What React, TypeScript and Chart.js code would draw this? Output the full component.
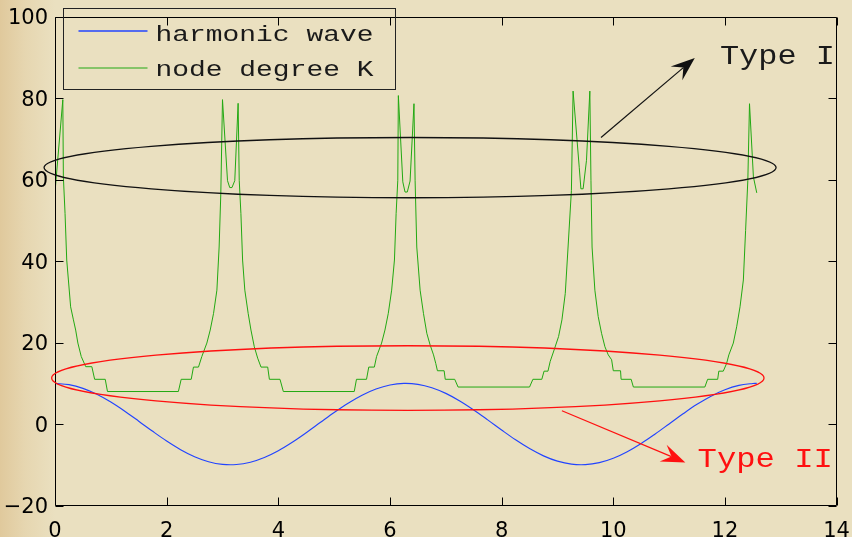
import React, { useEffect, useRef } from "react";
import { Chart, registerables } from "chart.js";

Chart.register(...registerables);

// ---- data ----
const seriesLabels = ["harmonic wave", "node degree K"];

const harmonicX = [
  0, 0.25, 0.5, 0.75, 1.0, 1.25, 1.5, 1.75, 2.0, 2.25, 2.5, 2.75, 3.0, 3.25, 3.5, 3.75,
  4.0, 4.25, 4.5, 4.75, 5.0, 5.25, 5.5, 5.75, 6.0, 6.25, 6.5, 6.75, 7.0, 7.25, 7.5, 7.75,
  8.0, 8.25, 8.5, 8.75, 9.0, 9.25, 9.5, 9.75, 10.0, 10.25, 10.5, 10.75, 11.0, 11.25, 11.5,
  11.75, 12.0, 12.25, 12.5, 12.57,
];
const harmonicY = [
  10, 9.69, 8.78, 7.32, 5.4, 3.15, 0.71, -1.78, -4.16, -6.28, -8.01, -9.24, -9.9, -9.94, -9.36, -8.2,
  -6.54, -4.46, -2.11, 0.37, 2.84, 5.12, 7.09, 8.61, 9.6, 10.0, 9.77, 8.93, 7.54, 5.68, 3.47, 1.04,
  -1.46, -3.87, -6.02, -7.81, -9.11, -9.85, -9.97, -9.47, -8.39, -6.78, -4.76, -2.43, 0.04, 2.52, 4.85,
  6.86, 8.44, 9.5, 9.98, 10.0,
];

const degreeX = [
  0.0, 0.14, 0.15, 0.18, 0.21, 0.24, 0.28, 0.33, 0.37, 0.41, 0.47, 0.55, 0.66, 0.71, 0.9, 0.94,
  2.21, 2.26, 2.44, 2.48, 2.57, 2.63, 2.72, 2.78, 2.84, 2.9, 2.94, 2.97, 3.0, 3.09, 3.13, 3.17, 3.22, 3.28,
  3.3, 3.33, 3.36, 3.4, 3.46, 3.51, 3.57, 3.63, 3.69, 3.81, 3.84, 4.03, 4.09,
  5.36, 5.4, 5.58, 5.62, 5.72, 5.76, 5.85, 5.91, 5.97, 6.03, 6.08, 6.11, 6.14, 6.15, 6.23, 6.27, 6.31, 6.36, 6.43,
  6.45, 6.48, 6.54, 6.6, 6.66, 6.72, 6.78, 6.82, 6.85, 6.97, 6.99, 7.16, 7.22,
  8.5, 8.56, 8.72, 8.76, 8.83, 8.87, 8.94, 9.02, 9.08, 9.14, 9.19, 9.25, 9.28, 9.39, 9.42, 9.46, 9.52, 9.58,
  9.6, 9.62, 9.67, 9.73, 9.79, 9.85, 9.91, 9.97, 10.0, 10.13, 10.14, 10.32, 10.36,
  11.64, 11.69, 11.87, 11.89, 11.97, 12.03, 12.07, 12.15, 12.21, 12.27, 12.33, 12.37, 12.41, 12.44, 12.51, 12.57,
];
const degreeY = [
  57.0, 79.7, 60.7, 51.7, 40.3, 35.4, 28.8, 25.6, 23.1, 19.9, 16.6, 14.1, 14.1, 11.0, 11.0, 8.0,
  8.0, 11.0, 11.0, 14.0, 14.0, 16.6, 19.9, 23.1, 27.2, 32.9, 43.5, 56.6, 79.7, 59.8, 58.1, 58.1, 59.8, 78.8,
  59.9, 51.7, 40.3, 32.9, 27.2, 23.1, 19.0, 16.2, 14.0, 14.0, 11.0, 11.0, 8.0,
  8.0, 11.0, 11.0, 14.0, 14.0, 16.6, 19.9, 23.1, 27.2, 32.9, 40.3, 51.7, 59.9, 80.7, 59.5, 57.0, 57.0, 59.7, 78.7,
  59.9, 43.5, 32.9, 27.2, 22.3, 19.4, 17.0, 14.9, 13.1, 13.1, 11.0, 11.0, 9.1,
  9.1, 11.0, 11.0, 13.0, 13.0, 15.4, 18.2, 21.5, 25.6, 32.1, 43.5, 57.4, 81.8, 63.1, 57.8, 57.8, 64.8, 81.8,
  59.9, 43.5, 32.9, 26.4, 22.3, 19.0, 17.0, 15.8, 13.1, 13.1, 11.0, 11.0, 9.1,
  9.1, 11.0, 11.0, 13.0, 13.0, 14.9, 17.0, 19.9, 23.9, 28.8, 35.4, 47.6, 59.9, 78.7, 60.7, 56.8,
];

const xLimits = [0, 14];
const yLimits = [-20, 100];
const xStep = 2;
const yStep = 20;

// annotations (data units)
const annotationLabels = ["Type I", "Type II"];
const typeIEllipse = { cx: 6.36, cy: 63.0, rx: 6.556, ry: 7.4 };
const typeIIEllipse = { cx: 6.32, cy: 11.3, rx: 6.38, ry: 7.94 };
const typeIArrow = { x0: 9.78, y0: 70.4, x1: 11.46, y1: 89.95 };
const typeIIArrow = { x0: 9.08, y0: 3.26, x1: 11.29, y1: -9.41 };
const typeILabelPos = { x: 11.91, y: 88.5 };
const typeIILabelPos = { x: 11.51, y: -10.5 };

const BLUE = "#2244ff";
const GREEN = "#22a812";
const RED = "#ff1010";

function drawArrow(ctx: CanvasRenderingContext2D, sx: number, sy: number, tx: number, ty: number, color: string) {
  const dx = tx - sx, dy = ty - sy;
  const len = Math.hypot(dx, dy);
  const ux = dx / len, uy = dy / len;
  const px = -uy, py = ux;
  const L = 24, W = 9, N = 15;
  ctx.strokeStyle = color;
  ctx.lineWidth = 1.2;
  ctx.beginPath();
  ctx.moveTo(sx, sy);
  ctx.lineTo(tx - ux * N, ty - uy * N);
  ctx.stroke();
  ctx.fillStyle = color;
  ctx.beginPath();
  ctx.moveTo(tx, ty);
  ctx.lineTo(tx - ux * L + px * W, ty - uy * L + py * W);
  ctx.lineTo(tx - ux * N, ty - uy * N);
  ctx.lineTo(tx - ux * L - px * W, ty - uy * L - py * W);
  ctx.closePath();
  ctx.fill();
}

function drawEllipse(ctx: CanvasRenderingContext2D, xs: any, ys: any, e: any, color: string) {
  const cx = xs.getPixelForValue(e.cx);
  const cy = ys.getPixelForValue(e.cy);
  const rx = Math.abs(xs.getPixelForValue(e.cx + e.rx) - cx);
  const ry = Math.abs(ys.getPixelForValue(e.cy + e.ry) - cy);
  ctx.strokeStyle = color;
  ctx.lineWidth = 1.3;
  ctx.beginPath();
  ctx.ellipse(cx, cy, rx, ry, 0, 0, Math.PI * 2);
  ctx.stroke();
}

function drawStretchedText(ctx: CanvasRenderingContext2D, text: string, x: number, y: number, font: string, sx: number, color: string) {
  ctx.save();
  ctx.font = font;
  ctx.fillStyle = color;
  ctx.textAlign = "left";
  ctx.textBaseline = "alphabetic";
  ctx.translate(x, y);
  ctx.scale(sx, 1);
  ctx.fillText(text, 0, 0);
  ctx.restore();
}

const overlayPlugin = {
  id: "overlay",
  afterDatasetsDraw(chart: any) {
    const { ctx, chartArea: a, scales } = chart;
    const xs = scales.x, ys = scales.y;
    ctx.save();

    // frame + inward ticks (box style)
    ctx.strokeStyle = "#000";
    ctx.lineWidth = 1;
    const L = Math.round(a.left) + 0.5, R = Math.round(a.right) - 0.5;
    const T = Math.round(a.top) + 0.5, B = Math.round(a.bottom) - 0.5;
    ctx.beginPath();
    ctx.rect(L, T, R - L, B - T);
    ctx.stroke();
    const tl = 8;
    ctx.beginPath();
    for (let v = xLimits[0]; v <= xLimits[1]; v += xStep) {
      const p = Math.round(xs.getPixelForValue(v)) + 0.5;
      ctx.moveTo(p, B); ctx.lineTo(p, B - tl);
      ctx.moveTo(p, T); ctx.lineTo(p, T + tl);
    }
    for (let v = yLimits[0]; v <= yLimits[1]; v += yStep) {
      const p = Math.round(ys.getPixelForValue(v)) + 0.5;
      ctx.moveTo(L, p); ctx.lineTo(L + tl, p);
      ctx.moveTo(R, p); ctx.lineTo(R - tl, p);
    }
    ctx.stroke();

    // ellipses
    drawEllipse(ctx, xs, ys, typeIEllipse, "#111");
    drawEllipse(ctx, xs, ys, typeIIEllipse, RED);

    // arrows
    drawArrow(ctx, xs.getPixelForValue(typeIArrow.x0), ys.getPixelForValue(typeIArrow.y0),
      xs.getPixelForValue(typeIArrow.x1), ys.getPixelForValue(typeIArrow.y1), "#111");
    drawArrow(ctx, xs.getPixelForValue(typeIIArrow.x0), ys.getPixelForValue(typeIIArrow.y0),
      xs.getPixelForValue(typeIIArrow.x1), ys.getPixelForValue(typeIIArrow.y1), RED);

    // annotation labels
    drawStretchedText(ctx, annotationLabels[0], xs.getPixelForValue(typeILabelPos.x), ys.getPixelForValue(typeILabelPos.y),
      "28px 'Liberation Mono', monospace", 1.14, "#1a1a1a");
    drawStretchedText(ctx, annotationLabels[1], xs.getPixelForValue(typeIILabelPos.x), ys.getPixelForValue(typeIILabelPos.y),
      "28px 'Liberation Mono', monospace", 1.15, RED);

    // legend
    const lx = a.left + 8.5, ly = 8.5, lw = 332, lh = 81;
    ctx.strokeStyle = "#222";
    ctx.lineWidth = 1;
    ctx.strokeRect(lx, ly, lw, lh);
    const rows = [
      { label: seriesLabels[0], color: BLUE, y: 31, w: 1.6 },
      { label: seriesLabels[1], color: GREEN, y: 68, w: 1 },
    ];
    rows.forEach((r, i) => {
      ctx.strokeStyle = r.color;
      ctx.lineWidth = r.w;
      ctx.beginPath();
      ctx.moveTo(lx + 15, r.y);
      ctx.lineTo(lx + 84, r.y);
      ctx.stroke();
      drawStretchedText(ctx, r.label, lx + 92, i === 0 ? 41 : 76, "22px 'Liberation Mono', monospace", 1.27, "#1a1a1a");
    });

    ctx.restore();
  },
};

export default function App() {
  const ref = useRef<HTMLCanvasElement | null>(null);
  useEffect(() => {
    const canvas = ref.current;
    if (!canvas) return;
    const tickFont = { family: "'DejaVu Sans', sans-serif", size: 21 };
    const chart = new Chart(canvas, {
      type: "line",
      data: {
        datasets: [
          {
            label: seriesLabels[0],
            data: harmonicX.map((x, i) => ({ x, y: harmonicY[i] })),
            borderColor: BLUE,
            borderWidth: 1.15,
            pointRadius: 0,
            tension: 0.35,
            fill: false,
          },
          {
            label: seriesLabels[1],
            data: degreeX.map((x, i) => ({ x, y: degreeY[i] })),
            borderColor: GREEN,
            borderWidth: 1,
            pointRadius: 0,
            tension: 0,
            fill: false,
          },
        ],
      },
      options: {
        animation: false,
        responsive: false,
        devicePixelRatio: 1,
        layout: { padding: { left: 0, right: 15.4, top: 17, bottom: 0 } },
        plugins: { legend: { display: false }, tooltip: { enabled: false } },
        scales: {
          x: {
            type: "linear",
            min: xLimits[0],
            max: xLimits[1],
            grid: { display: false, drawTicks: false },
            border: { display: false },
            ticks: { stepSize: xStep, font: tickFont, color: "#000", padding: 13, maxRotation: 0, autoSkip: false },
            afterFit: (s: any) => { s.height = 31.5; s.paddingLeft = 0; s.paddingRight = 0; },
          },
          y: {
            type: "linear",
            min: yLimits[0],
            max: yLimits[1],
            grid: { display: false, drawTicks: false },
            border: { display: false },
            ticks: {
              stepSize: yStep,
              font: tickFont,
              color: "#000",
              padding: 7,
              labelOffset: 2,
              callback: (v: any) => String(v).replace("-", "\u2212"),
            },
            afterFit: (s: any) => { s.width = 55; s.paddingTop = 0; s.paddingBottom = 0; },
          },
        },
      } as any,
      plugins: [overlayPlugin],
    });
    return () => chart.destroy();
  }, []);

  return (
    <div
      style={{
        position: "fixed",
        left: 0,
        top: 0,
        width: 852,
        height: 537,
        background: "linear-gradient(to right, #e0c99c 0px, #e6d6b0 25px, #eae0c0 55px, #eae0c0 100%)",
      }}
    >
      <canvas ref={ref} width={852} height={537} style={{ display: "block" }} />
    </div>
  );
}
